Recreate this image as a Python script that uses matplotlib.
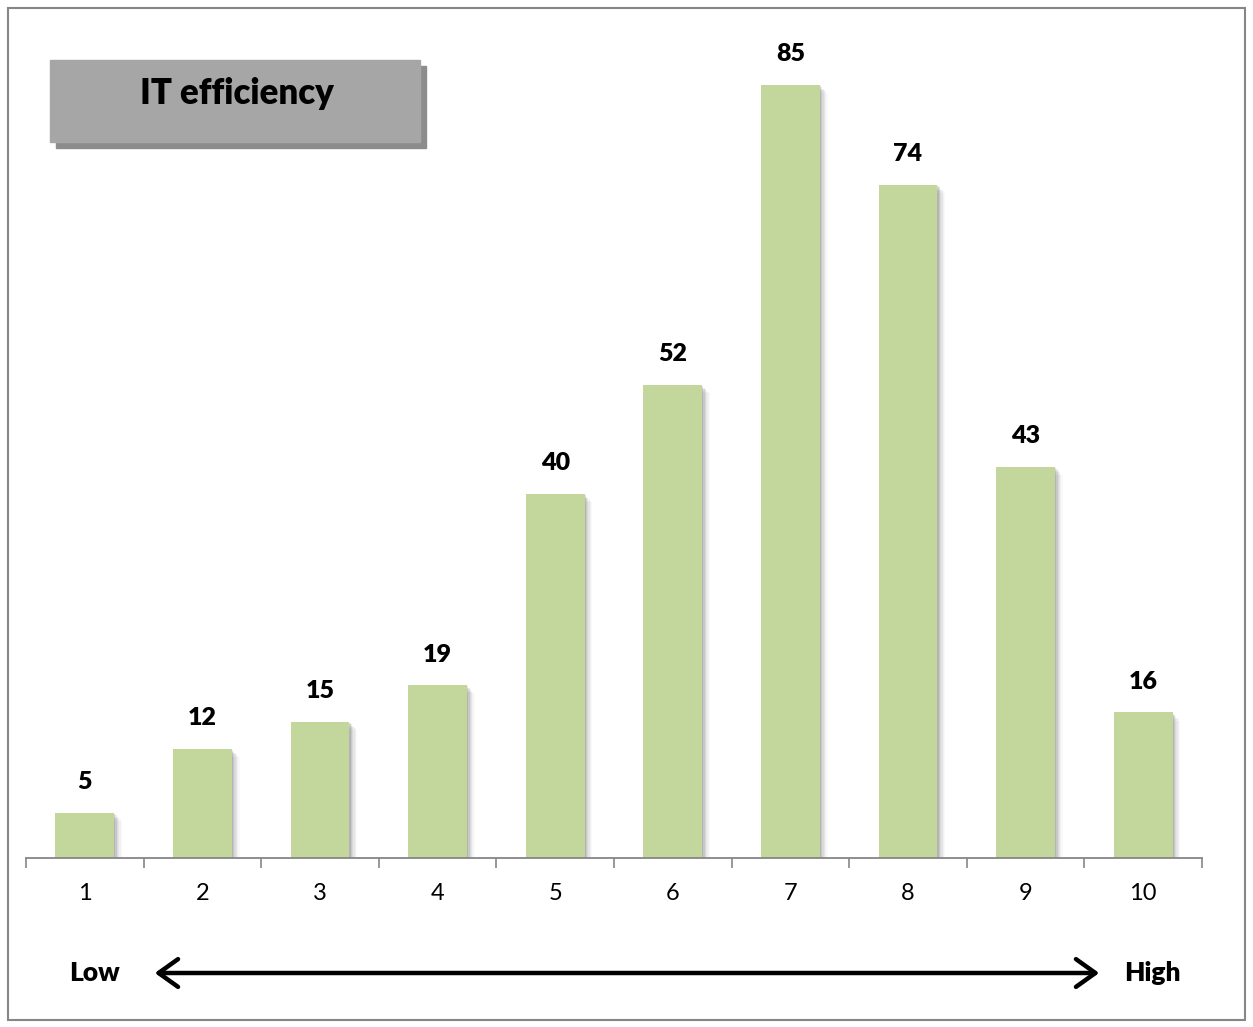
import matplotlib.pyplot as plt
from matplotlib.patches import Rectangle, FancyArrowPatch

plt.rcParams['font.family'] = ['Lato', 'DejaVu Sans']

categories = ['1', '2', '3', '4', '5', '6', '7', '8', '9', '10']
values = [5, 12, 15, 19, 40, 52, 85, 74, 43, 16]
title_text = 'IT efficiency'
low_label = 'Low'
high_label = 'High'

W, H = 1253, 1027
fig = plt.figure(figsize=(W / 100, H / 100), dpi=100)

# axes placed in pixel terms: x from 26 to 1202, baseline at 858, top at 40
ax = fig.add_axes([26 / W, 1 - 858 / H, (1202 - 26) / W, (858 - 40) / H])
x = list(range(1, len(values) + 1))

# soft shadow on the right of each bar
for i, a in enumerate([0.14, 0.11, 0.08, 0.06, 0.04, 0.03]):
    off = 0.011 * (i + 1)
    ax.bar([v + off for v in x], [val - 0.15 * (i + 1) for val in values],
           width=0.5, color='#404040', alpha=a, linewidth=0, zorder=1)

ax.bar(x, values, width=0.5, color='#c3d69b', linewidth=0, zorder=2)

for xi, val in zip(x, values):
    ax.annotate(str(val), (xi, val), xytext=(0, 22), textcoords='offset points',
                ha='center', va='center', fontsize=18, fontweight='heavy')

ax.set_xlim(0.5, 10.5)
ax.set_ylim(0, 818 / 9.1)
ax.set_xticks(x)
ax.set_xticklabels(categories, fontsize=17)
ax.set_xticks([v + 0.5 for v in range(0, 11)], minor=True)
ax.tick_params(axis='x', which='major', length=0, pad=18)
ax.tick_params(axis='x', which='minor', length=7, width=1.2, color='#868686', direction='out')
ax.set_yticks([])
for s in ['left', 'top', 'right']:
    ax.spines[s].set_visible(False)
ax.spines['bottom'].set_color('#868686')
ax.spines['bottom'].set_linewidth(1.3)

# title box with shadow
fig.patches.append(Rectangle((56 / W, 1 - 148 / H), 370 / W, 82 / H,
                             transform=fig.transFigure, color='#8c8c8c', zorder=0))
fig.patches.append(Rectangle((50 / W, 1 - 142 / H), 370 / W, 82 / H,
                             transform=fig.transFigure, color='#a6a6a6', zorder=1))
fig.text(237 / W, 1 - 94 / H, title_text, ha='center', va='center',
         fontsize=25, fontweight='heavy')

# low -> high arrow
arrow = FancyArrowPatch((152 / W, 1 - 973 / H), (1102 / W, 1 - 973 / H),
                        transform=fig.transFigure, arrowstyle='<->,head_length=0.7,head_width=0.5',
                        mutation_scale=20, linewidth=3.2, color='black')
fig.patches.append(arrow)
fig.text(95 / W, 1 - 973 / H, low_label, ha='center', va='center',
         fontsize=19, fontweight='heavy')
fig.text(1152 / W, 1 - 973 / H, high_label, ha='center', va='center',
         fontsize=19, fontweight='heavy')

# outer border
fig.patches.append(Rectangle((8 / W, 1 - 1020 / H), 1237 / W, 1012 / H,
                             transform=fig.transFigure, fill=False,
                             edgecolor='#868686', linewidth=1.5))

fig.savefig('out.png', dpi=100)
